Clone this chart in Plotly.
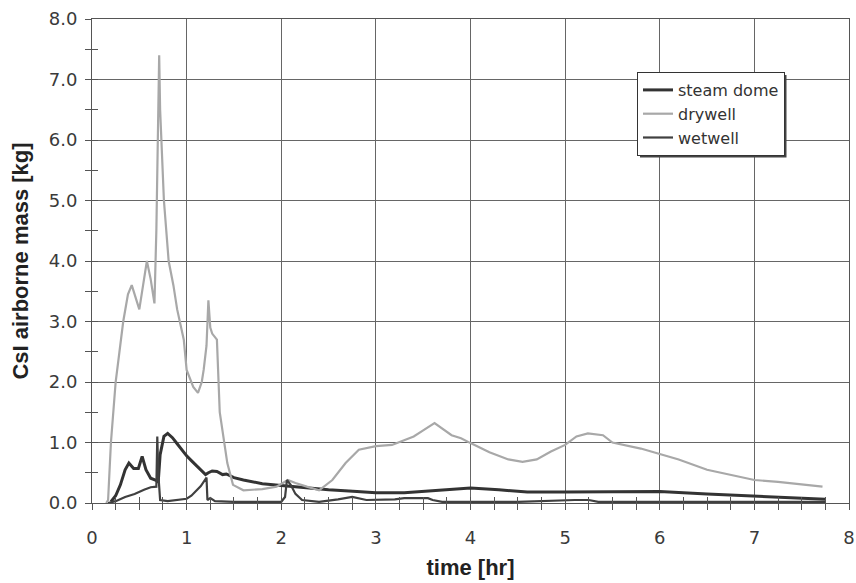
import plotly.graph_objects as go

# Airborne CsI mass per control volume [kg] vs. time [hr]
t_dry = [0.15, 0.17, 0.20, 0.25, 0.33, 0.38, 0.42, 0.46, 0.50, 0.54, 0.58, 0.62, 0.66, 0.68,
         0.71, 0.72, 0.76, 0.81, 0.86, 0.90, 0.97, 1.00, 1.07, 1.12, 1.16, 1.18, 1.21, 1.23,
         1.25, 1.27, 1.32, 1.35, 1.43, 1.49, 1.60, 1.80, 1.95, 2.07, 2.15, 2.27, 2.40, 2.54,
         2.68, 2.82, 3.00, 3.17, 3.40, 3.50, 3.62, 3.80, 3.90, 4.00, 4.20, 4.40, 4.55, 4.70,
         4.85, 5.00, 5.12, 5.24, 5.40, 5.50, 5.80, 6.00, 6.20, 6.50, 6.80, 7.00, 7.25, 7.50, 7.72]
drywell = [0.00, 0.05, 1.00, 2.00, 3.00, 3.45, 3.60, 3.40, 3.20, 3.60, 4.00, 3.70, 3.30, 4.50,
           7.40, 6.50, 5.00, 4.00, 3.60, 3.20, 2.70, 2.20, 1.92, 1.82, 2.00, 2.20, 2.60, 3.35,
           2.90, 2.80, 2.70, 1.50, 0.66, 0.30, 0.21, 0.23, 0.27, 0.38, 0.33, 0.27, 0.21, 0.38,
           0.66, 0.88, 0.94, 0.96, 1.10, 1.20, 1.32, 1.12, 1.07, 0.99, 0.84, 0.72, 0.68, 0.72,
           0.85, 0.96, 1.10, 1.15, 1.12, 1.00, 0.90, 0.81, 0.72, 0.55, 0.45, 0.38, 0.35, 0.31, 0.27]

t_sd = [0.20, 0.25, 0.30, 0.35, 0.39, 0.44, 0.49, 0.53, 0.57, 0.62, 0.67, 0.70, 0.72,
        0.76, 0.80, 0.85, 0.90, 0.95, 1.00, 1.05, 1.10, 1.15, 1.20, 1.23, 1.27, 1.32, 1.38,
        1.42, 1.50, 1.60, 1.70, 1.80, 2.00, 2.20, 2.50, 2.80, 3.00, 3.30, 3.60, 4.00, 4.30,
        4.60, 5.00, 5.50, 6.00, 6.50, 7.00, 7.50, 7.75]
steam_dome = [0.02, 0.12, 0.30, 0.55, 0.66, 0.57, 0.57, 0.77, 0.55, 0.41, 0.38, 0.35, 0.80,
              1.10, 1.15, 1.08, 0.98, 0.88, 0.78, 0.70, 0.62, 0.55, 0.47, 0.50, 0.53, 0.52, 0.47,
              0.48, 0.42, 0.38, 0.35, 0.32, 0.29, 0.26, 0.22, 0.19, 0.17, 0.17, 0.20, 0.25, 0.22,
              0.18, 0.18, 0.19, 0.19, 0.15, 0.11, 0.08, 0.06]

t_ww = [0.17, 0.25, 0.35, 0.45, 0.55, 0.62, 0.68, 0.69, 0.70, 0.72, 0.80, 0.90, 1.00, 1.05,
        1.10, 1.15, 1.21, 1.22, 1.25, 1.30, 1.50, 2.00, 2.04, 2.06, 2.10, 2.15, 2.22, 2.40,
        2.60, 2.75, 2.90, 3.20, 3.30, 3.55, 3.60, 3.70, 4.50, 4.80, 5.10, 5.25, 5.35, 7.75]
wetwell = [0.00, 0.03, 0.10, 0.15, 0.22, 0.26, 0.27, 1.10, 0.50, 0.05, 0.03, 0.05, 0.07, 0.12,
           0.20, 0.28, 0.42, 0.05, 0.08, 0.03, 0.02, 0.02, 0.10, 0.38, 0.30, 0.15, 0.05, 0.02,
           0.06, 0.10, 0.05, 0.06, 0.08, 0.08, 0.05, 0.02, 0.02, 0.04, 0.05, 0.05, 0.02, 0.02]

x_range = [0, 8]
y_range = [0, 8]

fig = go.Figure()
fig.add_trace(go.Scatter(x=t_sd, y=steam_dome, name="steam dome", mode="lines",
                         line=dict(color="#333333", width=3)))
fig.add_trace(go.Scatter(x=t_dry, y=drywell, name="drywell", mode="lines",
                         line=dict(color="#a8a8a8", width=2.2)))
fig.add_trace(go.Scatter(x=t_ww, y=wetwell, name="wetwell", mode="lines",
                         line=dict(color="#404040", width=2.2)))
# empty trace that carries the overlay axes used for inward tick marks
fig.add_trace(go.Scatter(x=[], y=[], xaxis="x2", yaxis="y2", showlegend=False,
                         hoverinfo="skip"))

tick_font = dict(family="DejaVu Sans, sans-serif", size=18, color="#3a3a3a")
title_font = dict(family="Liberation Sans, Arial, sans-serif", size=22, color="#222222")

# plot area in pixels: x 92..849, y 19..503 -> legend and its drop shadow in paper units
def px_x(p):
    return (p - 92) / 757.0

def px_y(p):
    return (503 - p) / 484.0

fig.update_layout(
    width=856, height=583,
    margin=dict(l=92, r=7, t=19, b=80, autoexpand=False),
    paper_bgcolor="white", plot_bgcolor="white",
    font=dict(family="DejaVu Sans, sans-serif"),
    xaxis=dict(
        range=x_range, dtick=1, tickformat="d", automargin=False,
        showgrid=True, gridcolor="#666666", gridwidth=1,
        showline=True, linecolor="#555555", linewidth=1, mirror=True,
        ticks="outside", ticklen=6, tickcolor="#555555",
        minor=dict(dtick=0.25, ticks="outside", ticklen=6, tickcolor="#555555", showgrid=False),
        tickfont=tick_font, ticklabelstandoff=12, ticklabeloverflow="allow",
        title=dict(text="<b>time [hr]</b>", font=title_font, standoff=13),
        zeroline=False,
    ),
    yaxis=dict(
        range=y_range, dtick=1, tickformat=".1f", automargin=False,
        showgrid=True, gridcolor="#666666", gridwidth=1,
        showline=True, linecolor="#555555", linewidth=1, mirror=True,
        ticks="outside", ticklen=6, tickcolor="#555555",
        minor=dict(dtick=0.5, ticks="outside", ticklen=6, tickcolor="#555555", showgrid=False),
        tickfont=tick_font, ticklabelstandoff=4, ticklabeloverflow="allow",
        title=dict(text="<b>CsI airborne mass [kg]</b>", font=title_font, standoff=14),
        zeroline=False,
    ),
    xaxis2=dict(range=x_range, overlaying="x", anchor="y", side="bottom", automargin=False,
                dtick=0.25, ticks="inside", ticklen=6, tickcolor="#555555",
                showticklabels=False, showgrid=False, showline=False, zeroline=False),
    yaxis2=dict(range=y_range, overlaying="y", anchor="x", side="left", automargin=False,
                dtick=0.5, ticks="inside", ticklen=6, tickcolor="#555555",
                showticklabels=False, showgrid=False, showline=False, zeroline=False),
    legend=dict(
        x=px_x(637), y=px_y(72), xanchor="left", yanchor="top",
        bgcolor="white", bordercolor="#333333", borderwidth=1,
        font=dict(family="DejaVu Sans, sans-serif", size=16, color="#333333"),
        tracegroupgap=0, itemwidth=30,
    ),
    shapes=[dict(type="rect", xref="paper", yref="paper",
                 x0=px_x(640), x1=px_x(786.5), y0=px_y(157.5), y1=px_y(75),
                 fillcolor="#444444", line=dict(width=0), layer="above")],
    showlegend=True,
)

fig.write_html("out.html")
